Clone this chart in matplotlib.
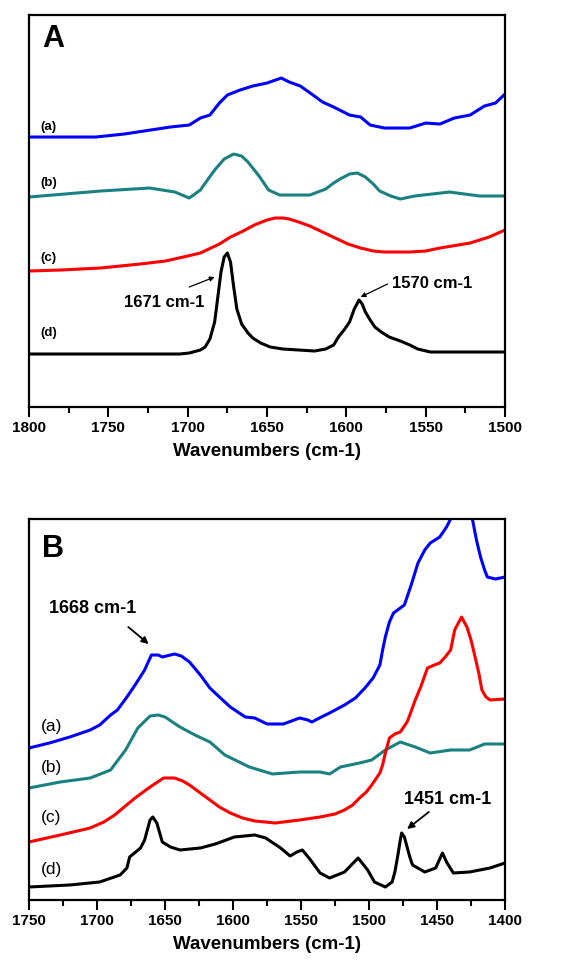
import numpy as np
import matplotlib
matplotlib.use('Agg')
import matplotlib.pyplot as plt
from matplotlib.ticker import MultipleLocator

plt.rcParams['font.family'] = ['Liberation Sans', 'DejaVu Sans']

# ---- panel A data (offset traces, arbitrary units) ----
wnA_a = [1800, 1758, 1740, 1711, 1699, 1692, 1686, 1680, 1675, 1667, 1659, 1650, 1641, 1636,
         1629, 1621, 1615, 1608, 1598, 1591, 1585, 1576, 1560, 1550, 1541, 1532, 1522, 1513,
         1506, 1500]
yA_a = [270, 270, 273, 280, 282, 289, 292, 304, 312, 317, 321, 324, 329, 325,
        321, 312, 305, 300, 292, 290, 282, 279, 279, 284, 283, 289, 292, 301,
        304, 313]

wnA_b = [1800, 1755, 1724, 1708, 1699, 1692, 1688, 1683, 1677, 1671, 1666, 1662, 1655, 1649,
         1642, 1623, 1613, 1608, 1604, 1598, 1593, 1588, 1583, 1579, 1572, 1566, 1557, 1535,
         1516, 1500]
yA_b = [210, 216, 219, 215, 209, 217, 226, 237, 248, 253, 251, 245, 231, 217,
        212, 212, 218, 224, 228, 233, 234, 230, 223, 216, 211, 208, 211, 215,
        211, 211]

wnA_c = [1800, 1780, 1755, 1730, 1714, 1700, 1692, 1680, 1673, 1665, 1658, 1650, 1645, 1640,
         1636, 1630, 1623, 1615, 1607, 1599, 1591, 1583, 1576, 1560, 1550, 1541, 1522, 1510,
         1500]
yA_c = [136, 137, 139, 143, 146, 151, 154, 163, 170, 176, 182, 187, 189, 189,
        188, 185, 181, 175, 169, 163, 159, 156, 155, 155, 156, 159, 164, 170,
        177]

wnA_d = [1800, 1724, 1705, 1699, 1692, 1689, 1686, 1683, 1681, 1679, 1677, 1675, 1673, 1671,
         1669, 1666, 1662, 1659, 1654, 1648, 1640, 1630, 1620, 1613, 1608, 1605, 1601, 1598,
         1595, 1592, 1590, 1588, 1585, 1582, 1578, 1573, 1566, 1560, 1555, 1547, 1500]
yA_d = [53, 53, 53, 54, 57, 60, 68, 85, 110, 135, 150, 154, 145, 120,
        98, 83, 74, 69, 64, 60, 58, 57, 56, 58, 62, 70, 78, 85,
        98, 107, 103, 95, 87, 80, 75, 70, 66, 62, 58, 55, 55]

# ---- panel B data ----
wnB_a = [1750, 1735, 1720, 1705, 1698, 1690, 1685, 1678, 1672, 1665, 1660, 1655, 1652, 1643,
         1638, 1632, 1624, 1617, 1610, 1602, 1591, 1584, 1575, 1563, 1551, 1545, 1542, 1535,
         1529, 1518, 1510, 1503, 1497, 1492, 1490, 1488, 1485, 1482, 1476, 1474, 1469, 1464,
         1459, 1455, 1448, 1443, 1440, 1435, 1430, 1426, 1424, 1421, 1418, 1415, 1413, 1407,
         1400]
yB_a = [152, 157, 163, 170, 175, 185, 190, 203, 215, 230, 245, 245, 243, 246,
        244, 238, 225, 212, 203, 193, 183, 182, 176, 176, 182, 180, 178, 183,
        187, 195, 202, 212, 222, 235, 250, 263, 278, 287, 293, 295, 315, 337,
        350, 357, 363, 373, 381, 405, 430, 400, 381, 360, 343, 330, 323, 321,
        323]

wnB_b = [1750, 1727, 1705, 1690, 1679, 1670, 1661, 1655, 1650, 1639, 1628, 1617, 1606, 1588,
         1571, 1551, 1536, 1529, 1521, 1507, 1498, 1488, 1477, 1466, 1455, 1440, 1426, 1415,
         1400]
yB_b = [112, 118, 122, 130, 150, 172, 184, 185, 183, 173, 165, 158, 145, 133,
        126, 128, 128, 126, 133, 137, 140, 150, 158, 153, 147, 150, 150, 156,
        156]

wnB_c = [1750, 1727, 1705, 1695, 1687, 1680, 1672, 1661, 1651, 1643, 1637, 1632, 1625, 1617,
         1610, 1602, 1593, 1584, 1569, 1551, 1536, 1525, 1518, 1512, 1507, 1502, 1498, 1492,
         1490, 1488, 1485, 1481, 1477, 1472, 1470, 1466, 1462, 1457, 1452, 1448, 1444, 1440,
         1437, 1432, 1428, 1425, 1422, 1419, 1417, 1414, 1411, 1400]
yB_c = [58, 65, 72, 78, 85, 93, 102, 113, 122, 122, 119, 115, 108, 100,
        93, 87, 82, 79, 77, 80, 83, 86, 90, 95, 102, 108, 115, 127,
        135, 147, 162, 166, 168, 178, 185, 200, 213, 232, 235, 237, 243, 250,
        270, 283, 273, 260, 243, 225, 210, 203, 200, 201]

wnB_d = [1750, 1720, 1698, 1683, 1678, 1676, 1668, 1665, 1661, 1659, 1656, 1652, 1646, 1639,
         1624, 1613, 1599, 1584, 1576, 1565, 1558, 1553, 1549, 1543, 1536, 1529, 1518, 1508,
         1501, 1496, 1488, 1483, 1481, 1479, 1477, 1476, 1474, 1472, 1470, 1468, 1459, 1451,
         1446, 1443, 1438, 1426, 1411, 1400]
yB_d = [13, 15, 18, 25, 32, 43, 52, 60, 80, 83, 77, 58, 53, 50,
        52, 56, 63, 65, 62, 52, 44, 48, 50, 40, 27, 22, 28, 42,
        30, 18, 13, 18, 28, 43, 60, 67, 63, 53, 43, 35, 28, 32,
        47, 38, 27, 28, 32, 37]

colors = ['#0000ff', '#1a8080', '#ff0000', '#000000']
trace_labels = ['(a)', '(b)', '(c)', '(d)']


def style_axis(ax, xmax, xmin, ymax):
    ax.set_xlim(xmax, xmin)
    ax.set_ylim(0, ymax)
    ax.set_yticks([])
    ax.xaxis.set_major_locator(MultipleLocator(50))
    ax.xaxis.set_minor_locator(MultipleLocator(25))
    ax.tick_params(axis='x', which='major', direction='out', length=7, width=1.5,
                   labelsize=11, pad=3)
    ax.tick_params(axis='x', which='minor', direction='out', length=4, width=1.5)
    for lab in ax.get_xticklabels():
        lab.set_fontweight('bold')
    for sp in ax.spines.values():
        sp.set_linewidth(1.6)
    ax.set_xlabel('Wavenumbers (cm-1)', fontsize=13.5, fontweight='bold', labelpad=6)


def arrow(ax, start, end, lw, size):
    ax.annotate('', xy=end, xytext=start,
                arrowprops=dict(arrowstyle='-|>', color='black', lw=lw,
                                mutation_scale=size, shrinkA=0, shrinkB=0))


fig = plt.figure(figsize=(5.72, 9.64), dpi=100)

# panel A
axA = fig.add_axes([0.0507, 0.5778, 0.8322, 0.4066])
for wn, y, c in zip([wnA_a, wnA_b, wnA_c, wnA_d], [yA_a, yA_b, yA_c, yA_d], colors):
    axA.plot(wn, y, color=c, lw=2.2)
style_axis(axA, 1800, 1500, 392)
axA.text(0.028, 0.94, 'A', transform=axA.transAxes, fontsize=22, fontweight='bold', va='center')
for lab, yy in zip(trace_labels, [280, 224, 149, 74]):
    axA.text(1793, yy, lab, fontsize=9.5, fontweight='bold', va='center')
axA.text(1740, 105, '1671 cm-1', fontsize=12, fontweight='bold', va='center')
arrow(axA, (1699, 120), (1683, 130), 0.9, 7)
axA.text(1571, 124, '1570 cm-1', fontsize=12, fontweight='bold', va='center')
arrow(axA, (1574, 123), (1591, 110), 0.9, 7)

# panel B
axB = fig.add_axes([0.0507, 0.0664, 0.8322, 0.3952])
for wn, y, c in zip([wnB_a, wnB_b, wnB_c, wnB_d], [yB_a, yB_b, yB_c, yB_d], colors):
    axB.plot(wn, y, color=c, lw=2.2)
style_axis(axB, 1750, 1400, 381)
axB.text(0.028, 0.92, 'B', transform=axB.transAxes, fontsize=22, fontweight='bold', va='center')
for lab, yy in zip(trace_labels, [174, 132, 82, 30]):
    axB.text(1741, yy, lab, fontsize=12.5, va='center')
axB.text(1735, 292, '1668 cm-1', fontsize=13, fontweight='bold', va='center')
arrow(axB, (1677, 273), (1662, 256), 1.3, 10)
axB.text(1474, 100, '1451 cm-1', fontsize=13, fontweight='bold', va='center')
arrow(axB, (1456, 88), (1472, 71), 1.3, 10)

fig.savefig('out.png', dpi=100)
